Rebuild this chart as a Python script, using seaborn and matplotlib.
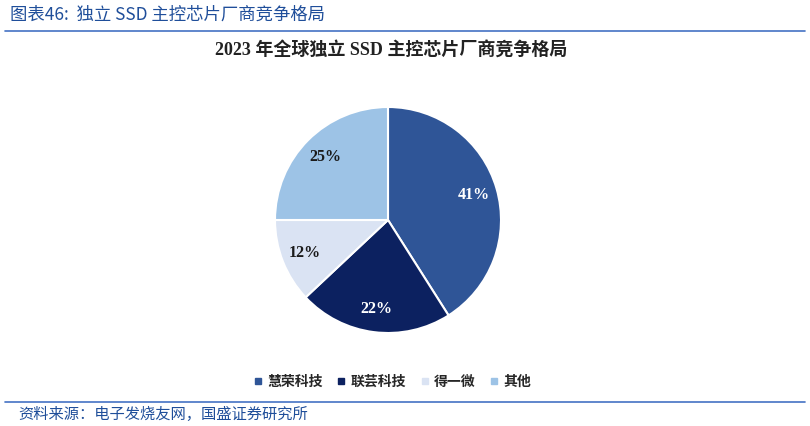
import matplotlib
matplotlib.use('Agg')
import matplotlib.pyplot as plt
from matplotlib.lines import Line2D
import seaborn as sns

sns.set_style("white")
plt.rcParams['font.family'] = ['Liberation Serif', 'Noto Sans CJK SC', 'DejaVu Sans']

# ---- datos ----
vendors = ['慧荣科技', '联芸科技', '得一微', '其他']
shares = [41, 22, 12, 25]
colors = ['#2F5597', '#0C2160', '#DAE3F3', '#9DC3E6']
label_colors = ['white', 'white', '#1a1a1a', '#1a1a1a']

header = '图表46:  独立 SSD 主控芯片厂商竞争格局'
chart_title = '2023 年全球独立 SSD 主控芯片厂商竞争格局'
source = '资料来源：电子发烧友网，国盛证券研究所'

fig = plt.figure(figsize=(8.1, 4.26), dpi=100)
fig.patch.set_facecolor('white')

# encabezado y pie de página
fig.text(0.012, 0.965, header, fontsize=12.5, color='#1F4E9A', va='center', ha='left',
         family=['Noto Sans CJK SC', 'DejaVu Sans'], style='italic')
fig.add_artist(Line2D([0.006, 0.994], [0.927, 0.927], color='#4472C4', lw=1.2))
fig.add_artist(Line2D([0.006, 0.994], [0.057, 0.057], color='#4472C4', lw=1.2))
fig.text(0.022, 0.028, source, fontsize=11, color='#1F4E9A', va='center', ha='left',
         family=['Noto Sans CJK SC', 'DejaVu Sans'], style='italic')

# titulo del grafico
fig.text(0.483, 0.883, chart_title, fontsize=13, fontweight='bold', ha='center', va='center',
         color='#222222')

# torta
ax = fig.add_axes([(388 - 113) / 810, (426 - 333) / 426, 226 / 810, 226 / 426])
wedges, texts, autotexts = ax.pie(shares, colors=colors, startangle=90, counterclock=False,
                                  autopct='%d%%', pctdistance=0.79, radius=1,
                                  wedgeprops=dict(edgecolor='white', linewidth=1.5))
for t, c in zip(autotexts, label_colors):
    t.set_color(c)
    t.set_fontsize(11.5)
    t.set_fontweight('bold')
ax.set_xlim(-1.0, 1.0)
ax.set_ylim(-1.0, 1.0)
ax.set_aspect('equal')

handles = [Line2D([0], [0], marker='s', linestyle='', markersize=5, markerfacecolor=c,
                  markeredgecolor=c) for c in colors]
leg = fig.legend(handles, vendors, loc='center', bbox_to_anchor=(0.484, 0.103), ncol=4,
                 frameon=False, handlelength=0.7, handletextpad=0.3, columnspacing=1.0,
                 prop={'family': ['Noto Sans CJK SC', 'DejaVu Sans'], 'size': 10, 'weight': 'bold'})

plt.savefig('out.png', dpi=100)
